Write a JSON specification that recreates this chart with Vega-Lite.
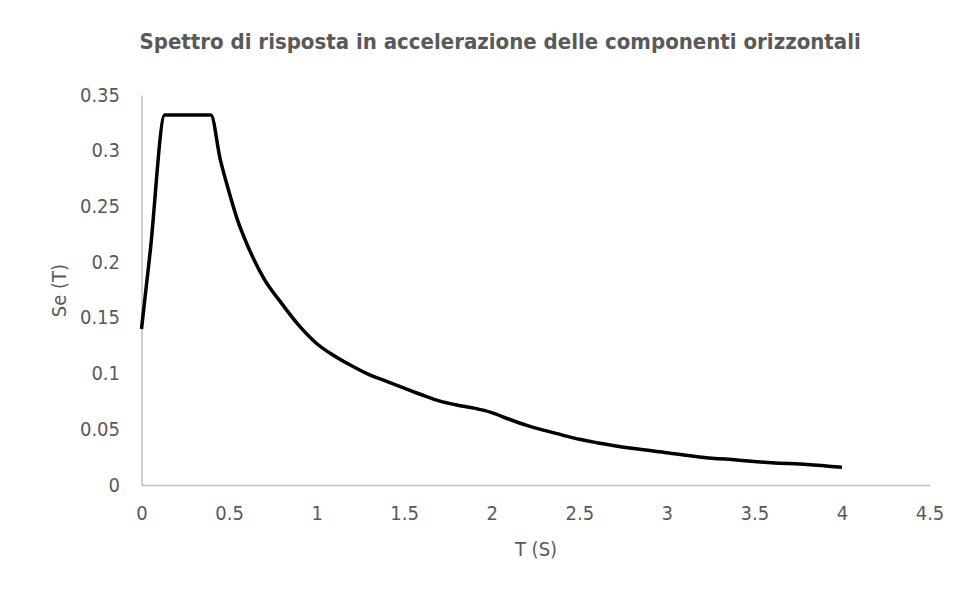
{
  "$schema": "https://vega.github.io/schema/vega-lite/v6.json",
  "autosize": "none",
  "width": 788,
  "height": 390,
  "padding": {"left": 141.5, "top": 95, "right": 27.5, "bottom": 106},
  "background": "white",
  "title": {
    "text": "Spettro di risposta in accelerazione delle componenti orizzontali",
    "anchor": "start",
    "frame": "group",
    "font": "DejaVu Sans Condensed, Liberation Sans, sans-serif",
    "fontSize": 22,
    "fontWeight": "bold",
    "color": "#595959",
    "offset": 31,
    "dx": -2
  },
  "data": {
    "values": [
      {"T": 0.0, "Se": 0.140},
      {"T": 0.05, "Se": 0.210},
      {"T": 0.133, "Se": 0.332},
      {"T": 0.396, "Se": 0.332},
      {"T": 0.45, "Se": 0.292},
      {"T": 0.5, "Se": 0.263},
      {"T": 0.55, "Se": 0.237},
      {"T": 0.6, "Se": 0.217},
      {"T": 0.7, "Se": 0.185},
      {"T": 0.8, "Se": 0.163},
      {"T": 0.9, "Se": 0.143},
      {"T": 1.0, "Se": 0.127},
      {"T": 1.1, "Se": 0.116},
      {"T": 1.2, "Se": 0.107},
      {"T": 1.3, "Se": 0.099},
      {"T": 1.4, "Se": 0.093},
      {"T": 1.5, "Se": 0.087},
      {"T": 1.6, "Se": 0.081},
      {"T": 1.7, "Se": 0.0755},
      {"T": 1.8, "Se": 0.0718},
      {"T": 1.9, "Se": 0.069},
      {"T": 2.0, "Se": 0.065},
      {"T": 2.1, "Se": 0.059},
      {"T": 2.2, "Se": 0.0535},
      {"T": 2.3, "Se": 0.049},
      {"T": 2.4, "Se": 0.045},
      {"T": 2.5, "Se": 0.041},
      {"T": 2.6, "Se": 0.038},
      {"T": 2.8, "Se": 0.033},
      {"T": 3.0, "Se": 0.029},
      {"T": 3.2, "Se": 0.025},
      {"T": 3.4, "Se": 0.0225},
      {"T": 3.6, "Se": 0.020},
      {"T": 3.8, "Se": 0.0185},
      {"T": 4.0, "Se": 0.0159}
    ]
  },
  "mark": {"type": "line", "color": "black", "strokeWidth": 3.5, "interpolate": "monotone", "strokeJoin": "round", "strokeCap": "butt"},
  "encoding": {
    "x": {
      "field": "T",
      "type": "quantitative",
      "title": "T (S)",
      "scale": {"domain": [0, 4.5], "nice": false, "zero": true},
      "axis": {
        "values": [0, 0.5, 1, 1.5, 2, 2.5, 3, 3.5, 4, 4.5],
        "format": "~g",
        "grid": false,
        "ticks": false,
        "domainColor": "#bfbfbf",
        "domainWidth": 1.5,
        "labelFont": "DejaVu Sans Condensed, Liberation Sans, sans-serif",
        "labelFontSize": 20,
        "labelColor": "#595959",
        "labelPadding": 18,
        "labelFlush": false,
        "titleFont": "DejaVu Sans Condensed, Liberation Sans, sans-serif",
        "titleFontSize": 20,
        "titleFontWeight": "normal",
        "titleColor": "#595959",
        "titlePadding": 16
      }
    },
    "y": {
      "field": "Se",
      "type": "quantitative",
      "title": "Se (T)",
      "scale": {"domain": [0, 0.35], "nice": false},
      "axis": {
        "values": [0, 0.05, 0.1, 0.15, 0.2, 0.25, 0.3, 0.35],
        "format": "~g",
        "grid": false,
        "ticks": false,
        "domainColor": "#bfbfbf",
        "domainWidth": 1.5,
        "labelFont": "DejaVu Sans Condensed, Liberation Sans, sans-serif",
        "labelFontSize": 20,
        "labelColor": "#595959",
        "labelPadding": 22,
        "labelFlush": false,
        "titleFont": "DejaVu Sans Condensed, Liberation Sans, sans-serif",
        "titleFontSize": 20,
        "titleFontWeight": "normal",
        "titleColor": "#595959",
        "titlePadding": 10
      }
    }
  },
  "config": {"view": {"stroke": null}}
}
